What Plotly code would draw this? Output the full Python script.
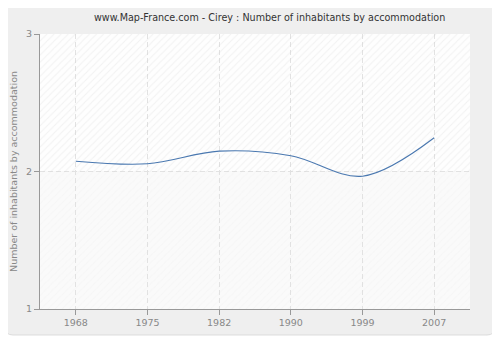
import plotly.graph_objects as go

years = ["1968", "1975", "1982", "1990", "1999", "2007"]
values = [2.075, 2.056, 2.148, 2.115, 1.966, 2.245]
y_ticks = [1, 2, 3]

fig = go.Figure()

# hatched background for plot area (base axes, hidden)
fig.add_trace(go.Scatter(
    x=[0, 1, 1, 0, 0], y=[0.5, 0.5, 1, 1, 0.5], xaxis="x", yaxis="y",
    fill="toself", mode="none", fillcolor="rgba(0,0,0,0)",
    fillpattern=dict(shape="/", fgcolor="rgba(200,200,200,0.45)", bgcolor="rgba(0,0,0,0)",
                     size=5, solidity=0.2),
    hoverinfo="skip", showlegend=False))
fig.add_trace(go.Scatter(
    x=[0, 1, 1, 0, 0], y=[0, 0, 0.5, 0.5, 0], xaxis="x", yaxis="y",
    fill="toself", mode="none", fillcolor="rgba(0,0,0,0)",
    fillpattern=dict(shape="/", fgcolor="rgba(200,200,200,0.18)", bgcolor="rgba(0,0,0,0)",
                     size=5, solidity=0.2),
    hoverinfo="skip", showlegend=False))

fig.add_trace(go.Scatter(
    x=years, y=values, mode="lines", xaxis="x2", yaxis="y2",
    line=dict(color="#4a78b0", width=1.1, shape="spline", smoothing=1),
    showlegend=False))

fig.update_layout(
    width=492, height=332,
    paper_bgcolor="white", plot_bgcolor="rgba(0,0,0,0)",
    margin=dict(l=32, r=30, t=26, b=31, autoexpand=False),
    font=dict(family="DejaVu Sans", size=9.5, color="#888888"),
    title=dict(text="www.Map-France.com - Cirey : Number of inhabitants by accommodation",
               x=0.534, xanchor="center", xref="paper", y=0.97, yanchor="middle",
               font=dict(size=9.6, color="#333333")),
    xaxis=dict(range=[0, 1], visible=False, fixedrange=True, automargin=False),
    yaxis=dict(range=[0, 1], visible=False, fixedrange=True, automargin=False),
    xaxis2=dict(overlaying="x", type="category", range=[-0.5, 5.5], showgrid=True,
                gridcolor="#e2e2e2", griddash="5px,3px", gridwidth=1, showline=True,
                linecolor="#999999", ticks="outside", ticklen=5, tickcolor="#999999",
                zeroline=False, automargin=False, anchor="y2", side="bottom",
                tickfont=dict(size=9.5, color="#888888")),
    yaxis2=dict(overlaying="y", range=[1, 3], tickvals=y_ticks, showgrid=True,
                gridcolor="#e2e2e2", griddash="5px,3px", showline=True, linecolor="#999999",
                ticks="outside", ticklen=5, tickcolor="#999999", zeroline=False,
                automargin=False, anchor="x2", side="left",
                title=dict(text="Number of inhabitants by accommodation", standoff=10,
                           font=dict(size=9.5, color="#888888")),
                tickfont=dict(size=9.5, color="#888888")),
    shapes=[
        dict(type="path", xref="paper", yref="paper", layer="below",
             path="M -0.0628 -0.0945 L 1.0395 -0.0945 Q 1.0581 -0.0945 1.0581 -0.0654 "
                  "L 1.0581 1.0764 Q 1.0581 1.1055 1.0395 1.1055 L -0.0628 1.1055 "
                  "Q -0.0814 1.1055 -0.0814 1.0764 L -0.0814 -0.0654 Q -0.0814 -0.0945 -0.0628 -0.0945 Z",
             fillcolor="#efefef", line=dict(color="#dcdcdc", width=1)),
        dict(type="rect", xref="paper", yref="paper", x0=0, x1=1, y0=0.5, y1=1, layer="below",
             fillcolor="#fefefe", line=dict(width=0)),
        dict(type="rect", xref="paper", yref="paper", x0=0, x1=1, y0=0, y1=0.5, layer="below",
             fillcolor="#fafafa", line=dict(width=0)),
    ],
)

fig.write_html("out.html")
